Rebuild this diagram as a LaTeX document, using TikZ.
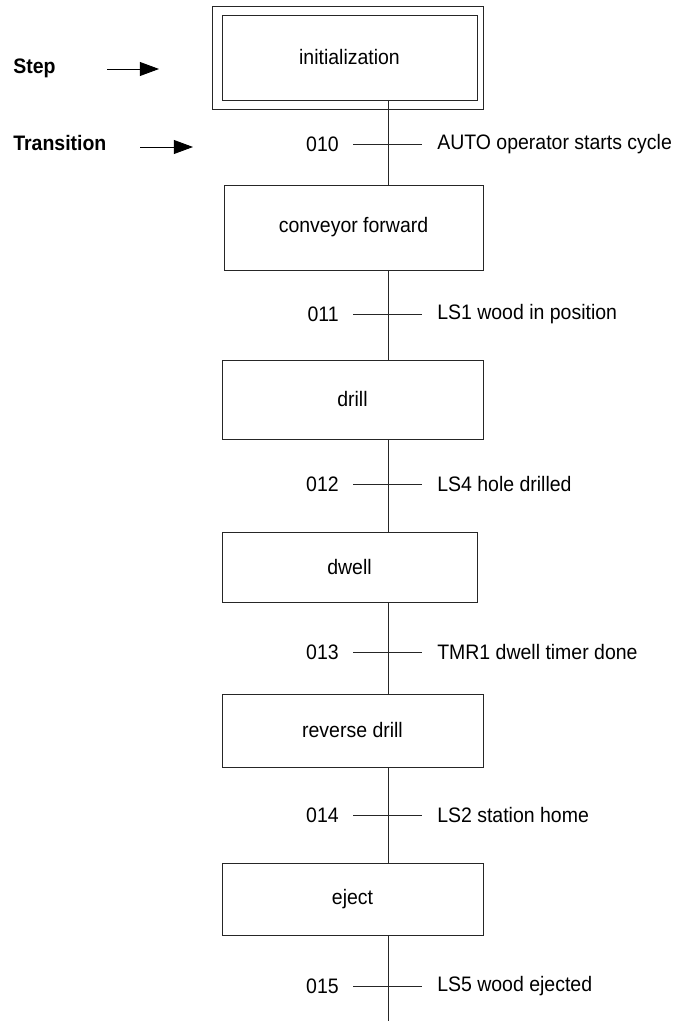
\documentclass[tikz,border=0pt]{standalone}
\usepackage{fontspec}
\setmainfont{Liberation Sans}[FakeStretch=0.93]
\usepackage{tikz}
\usetikzlibrary{positioning, arrows.meta}

\begin{document}
\begin{tikzpicture}[
    font=\fontsize{14.9}{18}\selectfont,
    stepbox/.style={
        rectangle,
        draw=black!85,
        line width=0.6pt,
        align=center,
        inner sep=3pt
    },
    trnum/.style={anchor=east, inner sep=0pt},
    trtext/.style={anchor=west, inner sep=0pt},
    flow/.style={line width=0.6pt, draw=black!85},
    pointer/.style={-{Triangle[length=4.8mm, width=3.5mm]}, line width=0.6pt}
]

\useasboundingbox (0, 0) rectangle (16.925, -25.525);

\node[stepbox, minimum width=6.375cm, minimum height=2.125cm] (init)    at (8.7375,  -1.4375) {initialization};
\node[stepbox, minimum width=6.475cm, minimum height=2.125cm] (convey)  at (8.8375,  -5.6875) {conveyor forward};
\node[stepbox, minimum width=6.525cm, minimum height=1.975cm] (drill)   at (8.8125,  -9.9875) {drill};
\node[stepbox, minimum width=6.375cm, minimum height=1.75cm]  (dwell)   at (8.7375, -14.175)  {dwell};
\node[stepbox, minimum width=6.525cm, minimum height=1.825cm] (reverse) at (8.8125, -18.2625) {reverse drill};
\node[stepbox, minimum width=6.525cm, minimum height=1.8cm]   (eject)   at (8.8125, -22.475)  {eject};

\draw[flow] ([shift={(-0.225, 0.2)}]init.north west) rectangle ([shift={(0.15, -0.225)}]init.south east);

\coordinate (t010) at (9.7,  -3.6);
\coordinate (t011) at (9.7,  -7.85);
\coordinate (t012) at (9.7, -12.1);
\coordinate (t013) at (9.7, -16.3);
\coordinate (t014) at (9.7, -20.375);
\coordinate (t015) at (9.7, -24.65);
\coordinate (tend) at (9.7, -25.525);

\node[trnum] (n010) at (8.475,  -3.6)   {010};
\node[trnum] (n011) at (8.475,  -7.85)  {011};
\node[trnum] (n012) at (8.475, -12.1)   {012};
\node[trnum] (n013) at (8.475, -16.3)   {013};
\node[trnum] (n014) at (8.475, -20.375) {014};
\node[trnum] (n015) at (8.475, -24.65)  {015};

\node[trtext] (c010) at (10.925,  -3.6)   {AUTO operator starts cycle};
\node[trtext] (c011) at (10.925,  -7.85)  {LS1 wood in position};
\node[trtext] (c012) at (10.925, -12.1)   {LS4 hole drilled};
\node[trtext] (c013) at (10.925, -16.3)   {TMR1 dwell timer done};
\node[trtext] (c014) at (10.925, -20.375) {LS2 station home};
\node[trtext] (c015) at (10.925, -24.65)  {LS5 wood ejected};

\draw[flow] (init.south -| t010) -- (convey.north -| t010);
\draw[flow] (convey.south -| t011) -- (drill.north -| t011);
\draw[flow] (drill.south -| t012) -- (dwell.north -| t012);
\draw[flow] (dwell.south -| t013) -- (reverse.north -| t013);
\draw[flow] (reverse.south -| t014) -- (eject.north -| t014);
\draw[flow] (eject.south -| t015) -- (tend);

\foreach \t in {t010, t011, t012, t013, t014, t015}
    \draw[flow] ([xshift=-0.875cm]\t) -- ([xshift=0.85cm]\t);

\node[anchor=west, inner sep=0pt, font=\fontsize{14.9}{18}\selectfont\bfseries] (steplbl)  at (0.325, -1.7)   {Step};
\node[anchor=west, inner sep=0pt, font=\fontsize{14.9}{18}\selectfont\bfseries] (translbl) at (0.325, -3.575) {Transition};

\coordinate (stepfrom)  at (2.675, -1.725);
\coordinate (stepto)    at (3.975, -1.725);
\coordinate (transfrom) at (3.5,   -3.675);
\coordinate (transto)   at (4.825, -3.675);

\draw[pointer] (stepfrom) -- (stepto);
\draw[pointer] (transfrom) -- (transto);

\end{tikzpicture}
\end{document}
